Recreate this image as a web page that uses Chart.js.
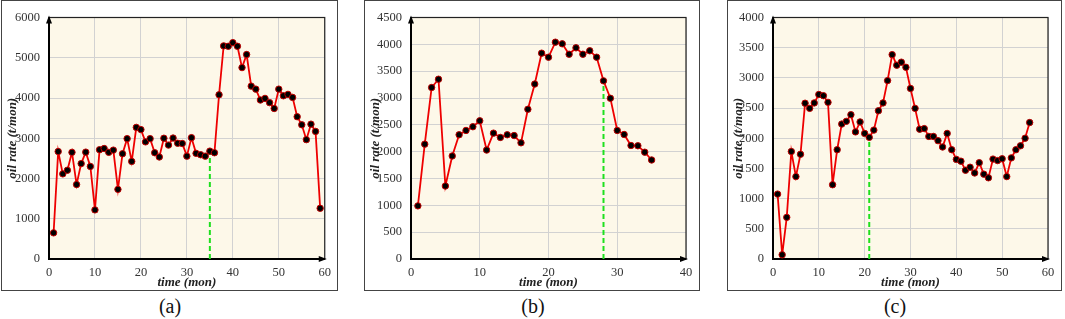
<!DOCTYPE html>
<html lang="en">
<head>
<meta charset="UTF-8">
<title>oil rate vs time</title>
<script src="https://cdn.jsdelivr.net/npm/chart.js"></script>
<style>
  body { margin: 0; background: #fff; width: 1065px; height: 319px; position: relative; overflow: hidden; }
  .frame { position: absolute; top: 0; height: 289px; border: 1px solid #444; background: #fff; }
  .frame canvas { display: block; }
  .cap { position: absolute; top: 295px; width: 60px; margin-left: -30px; text-align: center;
         font-family: "Liberation Serif", "Times New Roman", serif; font-size: 20px; color: #111; }
</style>
</head>
<body>
<div class="frame" style="left:1px;width:335px"><canvas id="cA" width="335" height="289"></canvas></div>
<div class="frame" style="left:364px;width:334px"><canvas id="cB" width="334" height="289"></canvas></div>
<div class="frame" style="left:727px;width:333px"><canvas id="cC" width="333" height="289"></canvas></div>
<div class="cap" style="left:170px">(a)</div>
<div class="cap" style="left:533px">(b)</div>
<div class="cap" style="left:895px">(c)</div>

<script>
// monthly oil rate (t/mon), month 1..n
const valuesA = [650, 2670, 2115, 2205, 2650, 1850, 2370, 2655, 2300, 1220,
                 2715, 2745, 2650, 2705, 1730, 2615, 2990, 2425, 3270, 3215,
                 2910, 2990, 2640, 2535, 3000, 2830, 3005, 2875, 2870, 2555,
                 3015, 2625, 2590, 2555, 2680, 2640, 4080, 5295, 5285, 5375,
                 5285, 4755, 5080, 4295, 4220, 3950, 3990, 3885, 3740, 4220,
                 4055, 4090, 4015, 3535, 3335, 2965, 3350, 3170, 1260];
const valuesB = [990, 2140, 3195, 3350, 1360, 1920, 2315, 2395, 2465, 2575,
                 2030, 2345, 2265, 2315, 2300, 2165, 2790, 3260, 3835, 3760,
                 4040, 4010, 3815, 3935, 3815, 3880, 3760, 3320, 2995, 2395,
                 2320, 2115, 2110, 1990, 1845];
const valuesC = [1075, 70, 690, 1780, 1365, 1735, 2580, 2495, 2585, 2725,
                 2705, 2595, 1230, 1810, 2235, 2280, 2390, 2105, 2270, 2080,
                 2015, 2135, 2455, 2585, 2955, 3385, 3210, 3260, 3175, 2825,
                 2495, 2150, 2160, 2030, 2030, 1960, 1855, 2080, 1810, 1650,
                 1620, 1470, 1520, 1425, 1595, 1405, 1345, 1655, 1630, 1660,
                 1365, 1675, 1810, 1875, 2000, 2260];
// month where the green dashed marker is drawn
const markA = 35, markB = 28, markC = 21;

const serif = "'Liberation Serif', 'Times New Roman', serif";
Chart.defaults.font.family = serif;

// cream plot background, black box and the two arrow heads
const boxPlugin = {
  id: 'box',
  beforeDraw(chart) {
    const a = chart.chartArea, ctx = chart.ctx;
    ctx.save();
    ctx.fillStyle = '#fdf8e9';
    ctx.fillRect(a.left, a.top, a.right - a.left, a.bottom - a.top);
    ctx.restore();
  },
  beforeDatasetsDraw(chart) {
    const a = chart.chartArea, ctx = chart.ctx;
    ctx.save();
    ctx.strokeStyle = '#222';
    ctx.lineWidth = 1.2;
    ctx.strokeRect(a.left, a.top, a.right - a.left, a.bottom - a.top);
    ctx.strokeStyle = '#000';
    ctx.lineWidth = 2;
    ctx.beginPath();
    ctx.moveTo(a.left, a.top); ctx.lineTo(a.left, a.bottom); ctx.lineTo(a.right, a.bottom);
    ctx.stroke();
    ctx.fillStyle = '#000';
    ctx.beginPath();
    ctx.moveTo(a.left, a.top - 2); ctx.lineTo(a.left - 3, a.top + 6); ctx.lineTo(a.left + 3, a.top + 6);
    ctx.closePath(); ctx.fill();
    ctx.beginPath();
    ctx.moveTo(a.right + 2, a.bottom); ctx.lineTo(a.right - 6, a.bottom - 3); ctx.lineTo(a.right - 6, a.bottom + 3);
    ctx.closePath(); ctx.fill();
    ctx.restore();
  }
};

function makeChart(id, values, xMax, yMax, yStep, markX, yWidth, padRight) {
  const pts = values.map((v, i) => ({ x: i + 1, y: v }));
  const markY = values[markX - 1];
  const grid = { color: '#d2d2d2', lineWidth: 1, borderDash: [4, 3], drawTicks: false };
  new Chart(document.getElementById(id), {
    type: 'line',
    data: {
      datasets: [{
        data: pts,
        borderColor: '#ee0000',
        borderWidth: 1.8,
        tension: 0,
        pointRadius: 3.2,
        pointBackgroundColor: '#000',
        pointBorderColor: '#c00000',
        pointBorderWidth: 1
      }, {
        data: [{ x: markX, y: 0 }, { x: markX, y: markY }],
        borderColor: '#1ee01e',
        borderWidth: 2,
        borderDash: [5, 3],
        pointRadius: 0
      }]
    },
    options: {
      responsive: false,
      animation: false,
      layout: { padding: { left: 0, top: 14, right: padRight, bottom: 0 } },
      plugins: { legend: { display: false }, tooltip: { enabled: false } },
      scales: {
        x: {
          type: 'linear', min: 0, max: xMax,
          ticks: { stepSize: 10, padding: 6, color: '#333', font: { family: serif, size: 12.5 },
                   callback: v => String(v) },
          grid: grid,
          border: { display: false },
          title: { display: true, text: 'time (mon)', color: '#222', padding: { top: 0, bottom: 0 },
                   font: { family: serif, size: 13, weight: 'bold', style: 'italic' } },
          afterFit(s) { s.height = 31; }
        },
        y: {
          min: 0, max: yMax,
          ticks: { stepSize: yStep, padding: 9, color: '#333', font: { family: serif, size: 12.5 },
                   callback: v => String(v) },
          grid: grid,
          border: { display: false },
          title: { display: true, text: 'oil rate (t/mon)', color: '#222', padding: { top: 3, bottom: 0 },
                   font: { family: serif, size: 13, weight: 'bold', style: 'italic' } },
          afterFit(s) { s.width = yWidth; }
        }
      }
    },
    plugins: [boxPlugin]
  });
}

makeChart('cA', valuesA, 60, 6000, 1000, markA, 47, 12);
makeChart('cB', valuesB, 40, 4500, 500, markB, 46, 13);
makeChart('cC', valuesC, 60, 4000, 500, markC, 45, 13);
</script>
</body>
</html>
